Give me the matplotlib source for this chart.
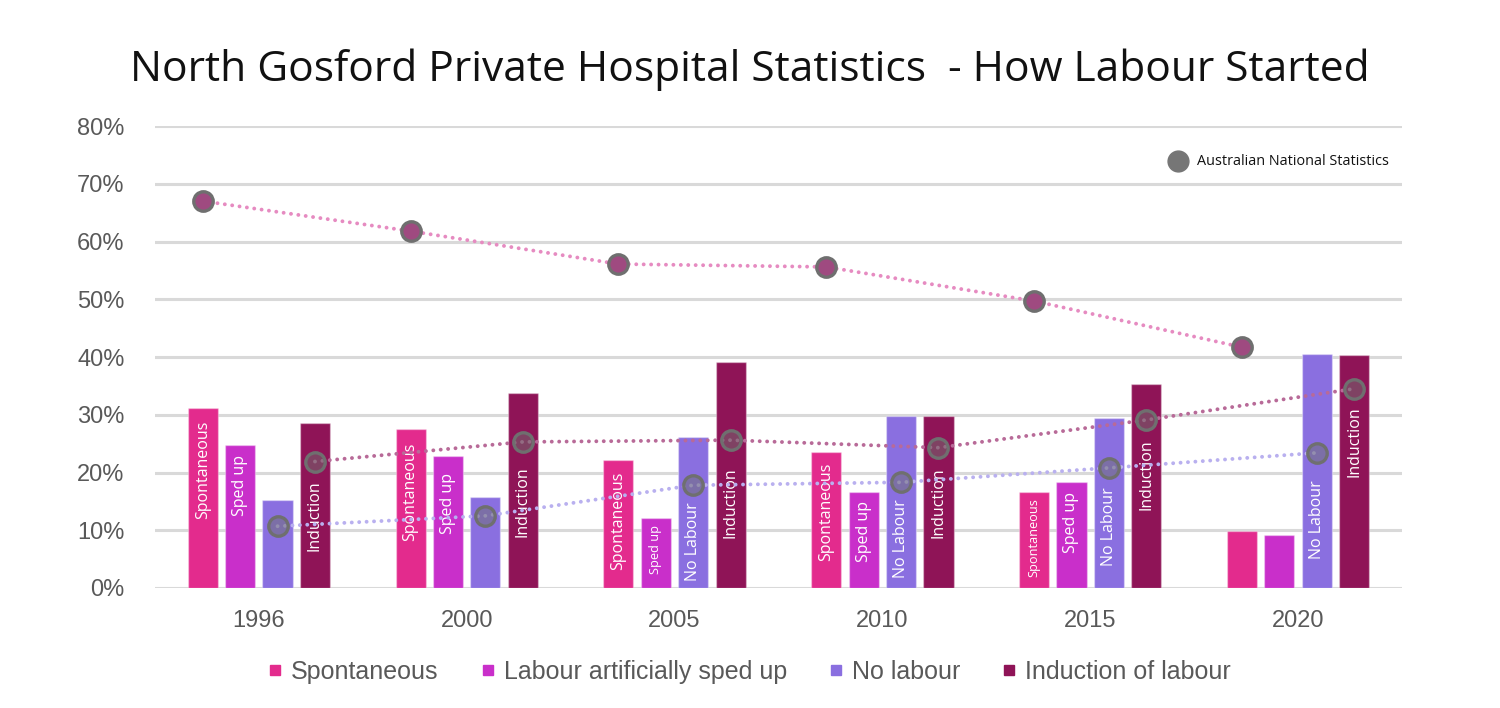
import numpy as np
import matplotlib
matplotlib.use('Agg')
import matplotlib.pyplot as plt
from matplotlib.lines import Line2D
from matplotlib.ticker import FuncFormatter

# values (percent)
years = ['1996', '2000', '2005', '2010', '2015', '2020']
spontaneous = [31.1, 27.5, 22.1, 23.5, 16.7, 9.8]
sped_up = [24.7, 22.8, 12.2, 16.7, 18.3, 9.1]
no_labour = [15.2, 15.7, 26.1, 29.8, 29.4, 40.5]
induction = [28.5, 33.7, 39.1, 29.7, 35.4, 40.3]

# Australian national statistics
nat_spontaneous = [67.0, 61.8, 56.1, 55.6, 49.7, 41.7]
nat_no_labour = [10.7, 12.5, 17.8, 18.3, 20.8, 23.4]
nat_induction = [21.9, 25.3, 25.6, 24.3, 29.1, 34.5]

# text written inside the bars
spont_labels = ['Spontaneous'] * 5 + [None]
sped_labels = ['Sped up'] * 5 + [None]
nolab_labels = [None, None, 'No Labour', 'No Labour', 'No Labour', 'No Labour']
ind_labels = ['Induction'] * 6

legend_names = ['Spontaneous', 'Labour artificially sped up', 'No labour', 'Induction of labour']

# layout of the in-bar labels (vertical centre, font size)
spont_lab_y = [20.4, 16.7, 11.6, 13.2, 8.8, 0]
sped_lab_y = [17.7, 14.7, 6.6, 9.8, 11.3, 0]
nolab_lab_y = [0, 0, 8.1, 8.6, 10.7, 11.9]
ind_lab_y = [12.6, 14.9, 14.8, 14.8, 19.6, 25.3]
spont_lab_fs = [11.5, 11.5, 11.5, 11.5, 9.2, 11.5]
sped_lab_fs = [11.5, 11.5, 9.2, 11.5, 11.5, 11.5]

colors = ['#e32b8d', '#c92fca', '#8a6fe0', '#8f1457']
grid_col = '#d9d9d9'
tick_col = '#595959'

fig = plt.figure(figsize=(15, 7.08), dpi=100)
ax = fig.add_axes([0.1033, 0.1695, 0.8313, 0.6525])

x = np.arange(len(years))
slot = 0.18
width = 0.145
offsets = [-1.5 * slot, -0.5 * slot, 0.5 * slot, 1.5 * slot]

series = [spontaneous, sped_up, no_labour, induction]
labels = [spont_labels, sped_labels, nolab_labels, ind_labels]
lab_y = [spont_lab_y, sped_lab_y, nolab_lab_y, ind_lab_y]
lab_fs = [spont_lab_fs, sped_lab_fs, [11.5] * 6, [11.5] * 6]

for k in range(4):
    ax.bar(x + offsets[k], series[k], width, color=colors[k],
           edgecolor=(1, 1, 1, 0.35), linewidth=1, zorder=2)
    for i in range(len(years)):
        if labels[k][i]:
            ax.text(x[i] + offsets[k], lab_y[k][i], labels[k][i], rotation=90,
                    ha='center', va='center', color='white',
                    fontsize=lab_fs[k][i], family='Open Sans', zorder=3)

# national statistics: dotted lines + round markers
dot = (0, (0.01, 1.9))
ax.plot(x + offsets[0], nat_spontaneous, color='#e68bc1', lw=2.8, ls=dot,
        dash_capstyle='round', zorder=4)
ax.plot(x + offsets[2], nat_no_labour, color='#b9b0ef', lw=2.8, ls=dot,
        dash_capstyle='round', zorder=4)
ax.plot(x + offsets[3], nat_induction, color='#b86a98', lw=2.8, ls=dot,
        dash_capstyle='round', zorder=4)

ax.plot(x + offsets[0], nat_spontaneous, ls='none', marker='o', ms=14,
        mfc='#9f4a80', mec='#6f6f6f', mew=2.4, zorder=5)
ax.plot(x + offsets[2], nat_no_labour, ls='none', marker='o', ms=14,
        mfc=(0.44, 0.44, 0.44, 0.5), mec='#6f6f6f', mew=2.4, zorder=5)
ax.plot(x + offsets[3], nat_induction, ls='none', marker='o', ms=14,
        mfc=(0.44, 0.44, 0.44, 0.5), mec='#6f6f6f', mew=2.4, zorder=5)

# note in the top right
ax.plot([0.8204], [0.924], transform=ax.transAxes, marker='o', ms=15,
        color='#767676', ls='none', clip_on=False)
ax.text(0.8356, 0.924, 'Australian National Statistics', transform=ax.transAxes,
        ha='left', va='center', fontsize=10.4, family='Open Sans', color='#111111')

ax.set_xlim(-0.5, len(years) - 0.5)
ax.set_ylim(0, 80)
ax.set_yticks(np.arange(0, 81, 10))
ax.yaxis.set_major_formatter(FuncFormatter(lambda v, p: '%d%%' % v))
ax.set_xticks(x)
ax.set_xticklabels(years)
ax.grid(axis='y', color=grid_col, lw=2.2, zorder=0)
ax.set_axisbelow(True)
for s in ax.spines.values():
    s.set_visible(False)
ax.tick_params(length=0, colors=tick_col, labelsize=17)
ax.tick_params(axis='y', pad=22)
ax.tick_params(axis='x', pad=16)
for t in ax.get_xticklabels() + ax.get_yticklabels():
    t.set_family('Liberation Sans')

fig.text(0.5, 0.902, 'North Gosford Private Hospital Statistics  - How Labour Started',
         ha='center', va='center', fontsize=30.6, family='Open Sans', color='#111111')

handles = [Line2D([], [], ls='none', marker='s', ms=7.5, color=c) for c in colors]
fig.legend(handles, legend_names, loc='center', bbox_to_anchor=(0.5, 0.051),
           ncol=4, frameon=False, handlelength=0.5, handletextpad=0.4,
           columnspacing=1.7, prop={'family': 'Liberation Sans', 'size': 18},
           labelcolor=tick_col)

fig.savefig('out.png', dpi=100)
